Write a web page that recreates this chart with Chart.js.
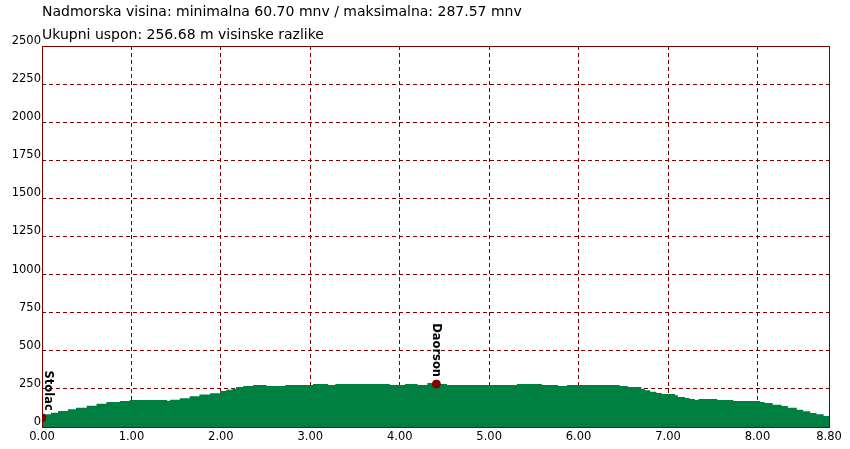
<!DOCTYPE html>
<html>
<head>
<meta charset="utf-8">
<script src="https://cdn.jsdelivr.net/npm/chart.js@4.4.1/dist/chart.umd.min.js"></script>
<style>
	html, body { margin: 0; padding: 0; background: #fff; }
	#wrap { width: 850px; height: 449px; }
</style>
</head>
<body>
<div id="wrap"><canvas id="profile"></canvas></div>
<script>
const distanceKm = [0, 0.1, 0.18, 0.29, 0.38, 0.5, 0.61, 0.72, 0.87, 0.98, 1.02, 1.4, 1.43, 1.54, 1.65, 1.76, 1.88, 1.99, 2.06, 2.13, 2.17, 2.25, 2.36, 2.51, 2.72, 3.03, 3.2, 3.28, 3.89, 4.06, 4.2, 4.31, 4.43, 4.53, 5.31, 5.59, 5.77, 5.87, 6.09, 6.46, 6.55, 6.7, 6.74, 6.8, 6.87, 6.93, 7.0, 7.08, 7.11, 7.19, 7.24, 7.3, 7.34, 7.55, 7.73, 7.92, 8.03, 8.08, 8.17, 8.27, 8.34, 8.44, 8.51, 8.59, 8.66, 8.74, 8.8]
const elevation = [61, 83, 94, 105, 116, 127, 140, 153, 164, 171, 177, 177, 171, 179, 188, 201, 214, 221, 236, 245, 251, 262, 269, 276, 269, 276, 282, 276, 282, 276, 282, 276, 288, 282, 276, 282, 276, 269, 276, 276, 269, 262, 251, 241, 232, 223, 217, 217, 208, 197, 190, 184, 177, 184, 177, 171, 171, 164, 157, 146, 138, 127, 114, 103, 92, 83, 72]

const waypointNames = ['Stolac', 'Daorson']
const waypointKm = [0, 4.41]
const waypointElev = [61, 282]

const xTicks = [0, 1, 2, 3, 4, 5, 6, 7, 8, 8.8]
const titleLines = [
	'Nadmorska visina: minimalna 60.70 mnv / maksimalna: 287.57 mnv',
	'Ukupni uspon: 256.68 m visinske razlike'
]

const RED = '#800000'
const GREEN = '#008040'
const FONT = '"DejaVu Sans", Verdana, sans-serif'

const frame = {
	id: 'frame',
	afterDraw(chart) {
		const { ctx, chartArea: a } = chart
		ctx.save()
		ctx.strokeStyle = RED
		ctx.lineWidth = 1
		ctx.strokeRect(Math.round(a.left) + 0.5, Math.round(a.top) + 0.5, Math.round(a.right - a.left), Math.round(a.bottom - a.top))

		// header text
		ctx.fillStyle = '#000'
		ctx.font = '14px ' + FONT
		ctx.textBaseline = 'middle'
		ctx.textAlign = 'left'
		ctx.fillText(titleLines[0], 42, 12)
		ctx.fillText(titleLines[1], 42, 35)

		// waypoint names, rotated
		const meta = chart.getDatasetMeta(1)
		ctx.font = 'bold 11.5px ' + FONT
		meta.data.forEach((pt, i) => {
			ctx.save()
			ctx.translate(Math.max(pt.x, a.left + 6), pt.y - 7)
			ctx.rotate(Math.PI / 2)
			ctx.textAlign = 'right'
			ctx.textBaseline = 'middle'
			ctx.fillText(waypointNames[i], 0, 0)
			ctx.restore()
		})
		ctx.restore()
	}
}

new Chart(document.getElementById('profile'), {
	type: 'line',
	data: {
		datasets: [
			{
				data: distanceKm.map((x, i) => ({ x, y: elevation[i] })),
				borderWidth: 0,
				borderColor: GREEN,
				backgroundColor: GREEN,
				fill: 'origin',
				pointRadius: 0,
				stepped: 'after',
				order: 2
			},
			{
				data: waypointKm.map((x, i) => ({ x, y: waypointElev[i] })),
				showLine: false,
				pointRadius: 4,
				pointBackgroundColor: RED,
				pointBorderColor: RED,
				pointStyle: 'circle',
				order: 1
			}
		]
	},
	options: {
		responsive: true,
		maintainAspectRatio: false,
		animation: false,
		layout: { padding: { top: 46, right: 21, left: 0, bottom: 0 } },
		plugins: {
			legend: { display: false },
			tooltip: { enabled: false }
		},
		scales: {
			x: {
				type: 'linear',
				min: 0,
				max: 8.8,
				z: 1,
				afterBuildTicks: scale => { scale.ticks = xTicks.map(value => ({ value })) },
				afterFit: scale => { scale.height = 22 },
				border: { display: false, dash: [4, 3] },
				grid: { color: RED, drawTicks: false },
				ticks: {
					color: '#000',
					font: { family: FONT, size: 11.5 },
					padding: 3,
					maxRotation: 0,
					autoSkip: false,
					callback: v => v.toFixed(2)
				}
			},
			y: {
				min: 0,
				max: 2500,
				z: 1,
				afterFit: scale => { scale.width = 42 },
				border: { display: false, dash: [4, 3] },
				grid: { color: RED, drawTicks: false },
				ticks: {
					stepSize: 250,
					color: '#000',
					font: { family: FONT, size: 11.5 },
					padding: 1,
					labelOffset: -5,
					callback: v => String(v)
				}
			}
		}
	},
	plugins: [frame]
})
</script>
</body>
</html>
